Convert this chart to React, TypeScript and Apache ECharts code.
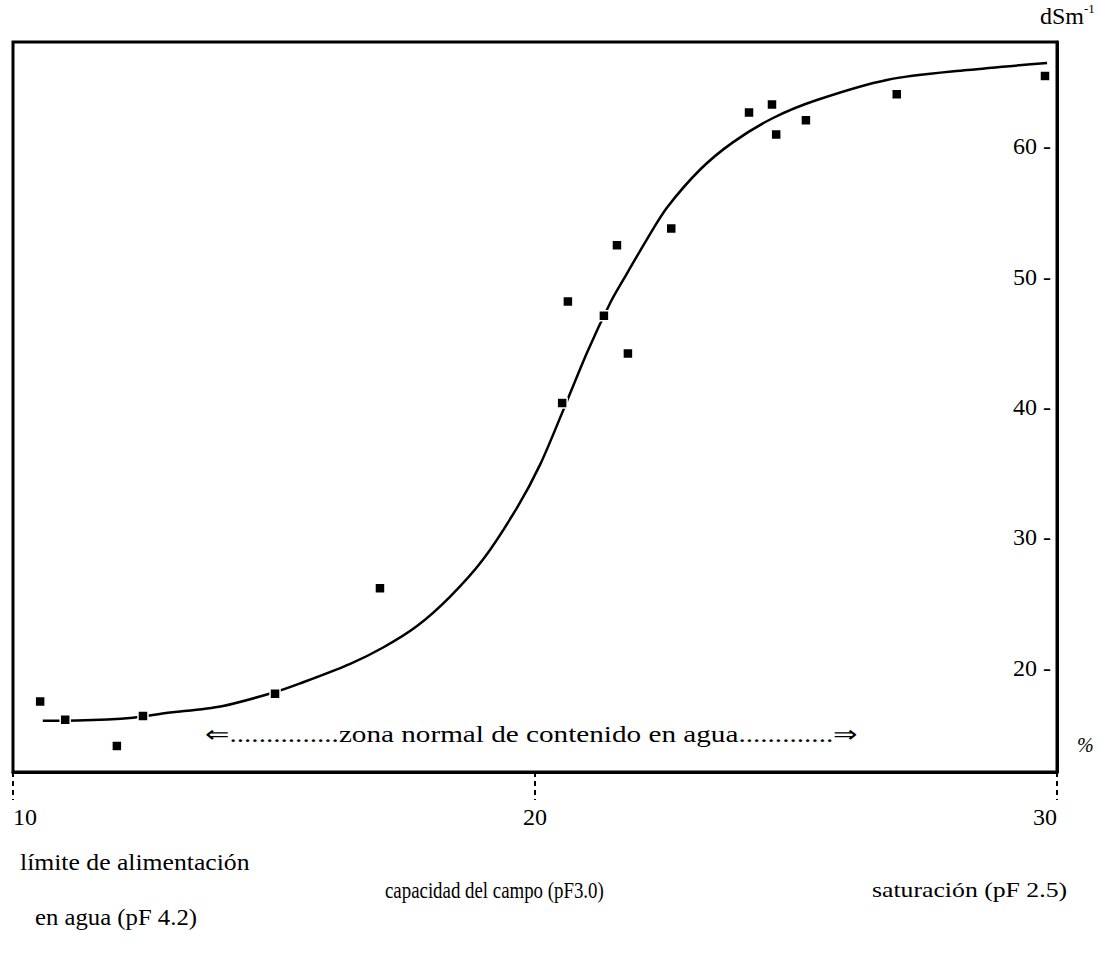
import React, { useEffect, useRef } from "react";
import * as echarts from "echarts";

// Humidity (%) vs conductivity (dSm-1) measurements
const measuredX = [10.52, 11.0, 11.99, 12.49, 15.02, 17.03, 20.52, 20.63, 21.32, 21.57, 21.78, 22.61, 24.1, 24.54, 24.62, 25.19, 26.93, 29.77];
const measuredY = [17.4, 16.0, 14.0, 16.3, 18.0, 26.1, 40.3, 48.1, 47.0, 52.4, 44.1, 53.7, 62.6, 63.2, 60.9, 62.0, 64.0, 65.4];

// Fitted curve
const curveX = [10.57, 11.23, 12.3, 12.9, 14.0, 14.98, 15.5, 16.46, 17.09, 17.74, 18.37, 19.0, 19.66, 20.1, 20.52, 21.0, 21.44, 21.69, 22.15, 22.53, 23.16, 23.79, 24.56, 25.4, 26.74, 28.28, 29.81];
const curveY = [15.93, 15.95, 16.16, 16.5, 17.05, 18.08, 18.8, 20.3, 21.55, 23.2, 25.44, 28.28, 32.3, 35.6, 39.55, 44.2, 47.98, 49.75, 52.9, 55.3, 58.2, 60.3, 62.17, 63.55, 65.09, 65.85, 66.39];

const xTickLabels = [10, 20, 30];
const yTickLabels = [20, 30, 40, 50, 60];

const bottomNotes = [
  "límite de alimentación",
  "en agua (pF 4.2)",
  "capacidad del campo (pF3.0)",
  "saturación (pF 2.5)",
];
const zoneText = "⇐...............zona normal de contenido en agua.............⇒";
const yUnit = "dSm";
const yUnitExp = "-1";
const xUnit = "%";

const FONT = "Liberation Serif";

export default function App() {
  const ref = useRef<HTMLDivElement>(null);
  useEffect(() => {
    if (!ref.current) return;
    const chart = echarts.init(ref.current, undefined, { renderer: "svg" });
    const scatterData = measuredX.map((x, i) => [x, measuredY[i]]);
    const curveData = curveX.map((x, i) => [x, curveY[i]]);
    const txt = (text: string, x: number, y: number, size: number, sx: number) => ({
      type: "text",
      x,
      y,
      scaleX: sx,
      style: {
        text,
        fontSize: size,
        fontFamily: FONT,
        fill: "#000",
        verticalAlign: "middle",
        align: "left",
      },
    });
    chart.setOption({
      animation: false,
      backgroundColor: "#fff",
      grid: {
        left: 13,
        right: 43,
        top: 42,
        bottom: 187,
        show: true,
        borderColor: "#000",
        borderWidth: 3,
        containLabel: false,
      },
      xAxis: {
        type: "value",
        min: 10,
        max: 30,
        interval: 10,
        axisLine: { show: true, lineStyle: { color: "#000", width: 3 } },
        axisTick: { show: true, length: 28, lineStyle: { color: "#000", width: 2, type: [5, 4] } },
        splitLine: { show: false },
        axisLabel: {
          margin: 33,
          color: "#000",
          fontSize: 24,
          fontFamily: FONT,
          alignMinLabel: "left",
          alignMaxLabel: "right",
          formatter: (v: number) => (xTickLabels.includes(v) ? String(v) : ""),
        },
      },
      yAxis: {
        type: "value",
        position: "right",
        min: 12,
        max: 68,
        splitNumber: 5,
        axisLine: { show: true, lineStyle: { color: "#000", width: 3 } },
        axisTick: { show: false },
        splitLine: { show: false },
        axisLabel: {
          inside: true,
          margin: 6,
          color: "#000",
          fontSize: 24,
          fontFamily: FONT,
          showMinLabel: false,
          showMaxLabel: false,
          formatter: (v: number) => (yTickLabels.includes(v) ? `${v} -` : ""),
        },
      },
      series: [
        {
          type: "line",
          data: curveData,
          smooth: 0.3,
          showSymbol: false,
          lineStyle: { color: "#000", width: 2.5 },
          z: 2,
        },
        {
          type: "scatter",
          data: scatterData,
          symbol: "rect",
          symbolSize: 10,
          itemStyle: { color: "#000", opacity: 1, borderColor: "#fff", borderWidth: 1.5 },
          z: 3,
        },
      ],
      graphic: [
        {
          type: "text",
          x: 1040,
          y: 30,
          style: {
            text: `{b|${yUnit}}{s|${yUnitExp}}`,
            verticalAlign: "bottom",
            rich: {
              b: { fontSize: 24, fontFamily: FONT, fill: "#000" },
              s: { fontSize: 13, fontFamily: FONT, fill: "#000", padding: [0, 0, 15, 0] },
            },
          },
        },
        {
          type: "text",
          x: 1077,
          y: 745,
          style: { text: xUnit, fontSize: 20, fontStyle: "italic", fontFamily: FONT, fill: "#000", verticalAlign: "middle" },
        },
        txt(zoneText, 205, 735, 23, 1.27),
        txt(bottomNotes[0], 20, 862, 24, 1.07),
        txt(bottomNotes[1], 35, 917, 24, 1.03),
        txt(bottomNotes[2], 385, 890, 23, 0.82),
        txt(bottomNotes[3], 872, 890, 22, 1.17),
      ],
    });
    return () => chart.dispose();
  }, []);
  return (
    <div
      ref={ref}
      style={{ position: "fixed", left: 0, top: 0, width: 1100, height: 959, background: "#fff" }}
    />
  );
}
